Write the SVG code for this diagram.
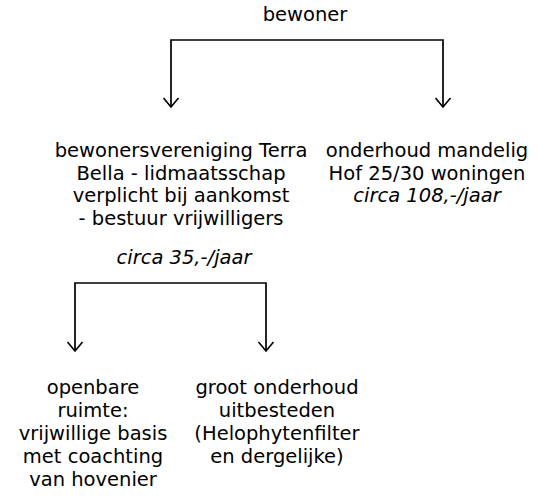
<svg xmlns="http://www.w3.org/2000/svg" width="549" height="502" viewBox="0 0 549 502">
<style>
text{font-family:"DejaVu Sans",sans-serif;font-size:19.5px;fill:#000;text-anchor:middle}
.i{font-style:italic}
.c{fill:none;stroke:#000;stroke-width:1.7}
</style>
<defs>
<marker id="a" markerUnits="userSpaceOnUse" markerWidth="20" markerHeight="14" refX="10" refY="11" orient="0" viewBox="0 0 20 14">
<path d="M2.5,2 L10,11 L17.5,2" fill="none" stroke="#000" stroke-width="1.6"/>
</marker>
</defs>
<rect width="549" height="502" fill="#fff"/>
<g id="connectors">
<path class="c" d="M171,107 V40 H443 V107" marker-start="url(#a)" marker-end="url(#a)"/>
<path class="c" d="M75,351 V283 H266 V351" marker-start="url(#a)" marker-end="url(#a)"/>
</g>
<g id="bewoner"><text x="305" y="21">bewoner</text></g>
<g id="vereniging">
<text x="181" y="157">bewonersvereniging Terra</text>
<text x="181" y="180">Bella - lidmaatsschap</text>
<text x="181" y="202">verplicht bij aankomst</text>
<text x="181" y="225">- bestuur vrijwilligers</text>
<text x="184" y="264" class="i">circa 35,-/jaar</text>
</g>
<g id="onderhoud">
<text x="427" y="157">onderhoud mandelig</text>
<text x="427" y="180">Hof 25/30 woningen</text>
<text x="427" y="202" class="i">circa 108,-/jaar</text>
</g>
<g id="openbare">
<text x="93" y="394">openbare</text>
<text x="93" y="417">ruimte:</text>
<text x="93" y="440">vrijwillige basis</text>
<text x="93" y="463">met coachting</text>
<text x="93" y="486">van hovenier</text>
</g>
<g id="groot">
<text x="277" y="394">groot onderhoud</text>
<text x="277" y="417">uitbesteden</text>
<text x="277" y="440">(Helophytenfilter</text>
<text x="277" y="463">en dergelijke)</text>
</g>
</svg>
